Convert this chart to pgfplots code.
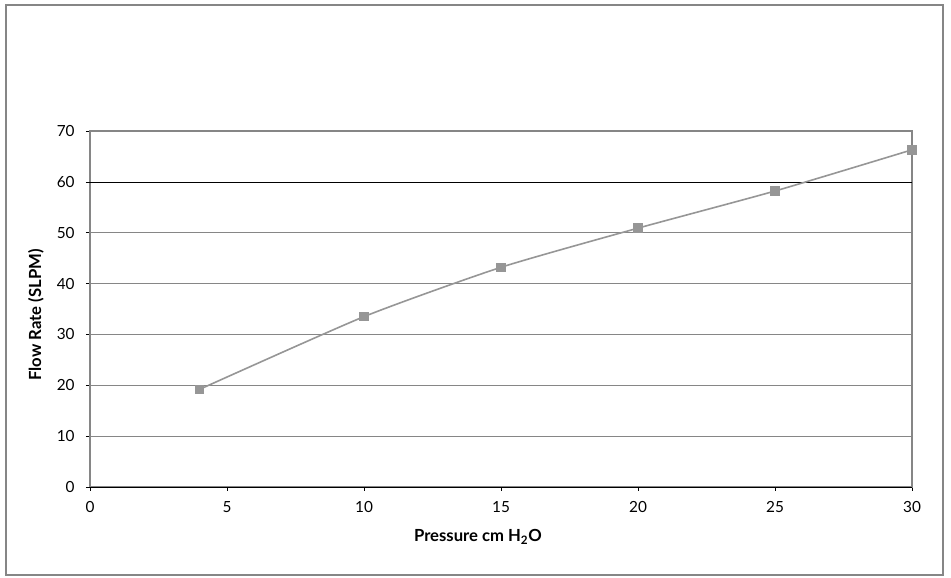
\documentclass[border=0pt]{standalone}
\usepackage{pgfplots}
\pgfplotsset{compat=1.18}
\usepackage{fontspec}
\setmainfont{Lato}
\definecolor{framegray}{RGB}{134,134,134}
\definecolor{linegray}{RGB}{150,150,150}

\begin{document}
\begin{tikzpicture}
% page size and outer chart frame (1px = 0.75pt)
\path[use as bounding box] (0pt,0pt) rectangle (713.25pt,433.5pt);
\draw[framegray, line width=0.9pt] (4.5pt,2.25pt) rectangle (707.25pt,429.75pt);

\begin{axis}[
    at={(67.5pt,68.25pt)}, anchor=south west,
    scale only axis,
    width=616.5pt, height=267pt,
    xmin=0, xmax=30, ymin=0, ymax=70,
    xtick={0,5,...,30},
    ytick={10,20,...,50,70},
    extra y ticks={0,60},
    extra y tick style={grid style={black, line width=0.5pt}},
    ymajorgrids,
    grid style={framegray, line width=0.6pt},
    axis line style={framegray, line width=1.2pt},
    tick style={black, line width=0.4pt},
    tick align=outside,
    major tick length=3pt,
    xtick pos=bottom, ytick pos=left,
    font=\fontsize{11.5}{13}\selectfont,
    /pgf/number format/assume math mode=true,
    xlabel={\textbf{Pressure cm H\textsubscript{2}O}},
    ylabel={\textbf{Flow Rate (SLPM)}},
    xlabel style={at={(axis description cs:0.472,0)}, anchor=center, yshift=-37.5pt, font=\fontsize{12.5}{14}\selectfont},
    ylabel style={at={(axis description cs:0,0.483)}, anchor=center, yshift=40.5pt, font=\fontsize{12.5}{14}\selectfont},
    xticklabel style={yshift=-4pt},
    yticklabel style={xshift=-5pt},
]
\addplot[color=linegray, line width=1.2pt, smooth, tension=0.35,
    mark=square*, mark size=3.2pt, mark options={fill=linegray, draw=linegray, line width=0pt}]
coordinates {
    (4,19.2) (10,33.5) (15,43.2) (20,50.9) (25,58.2) (30,66.3)
};
\end{axis}
\end{tikzpicture}
\end{document}
